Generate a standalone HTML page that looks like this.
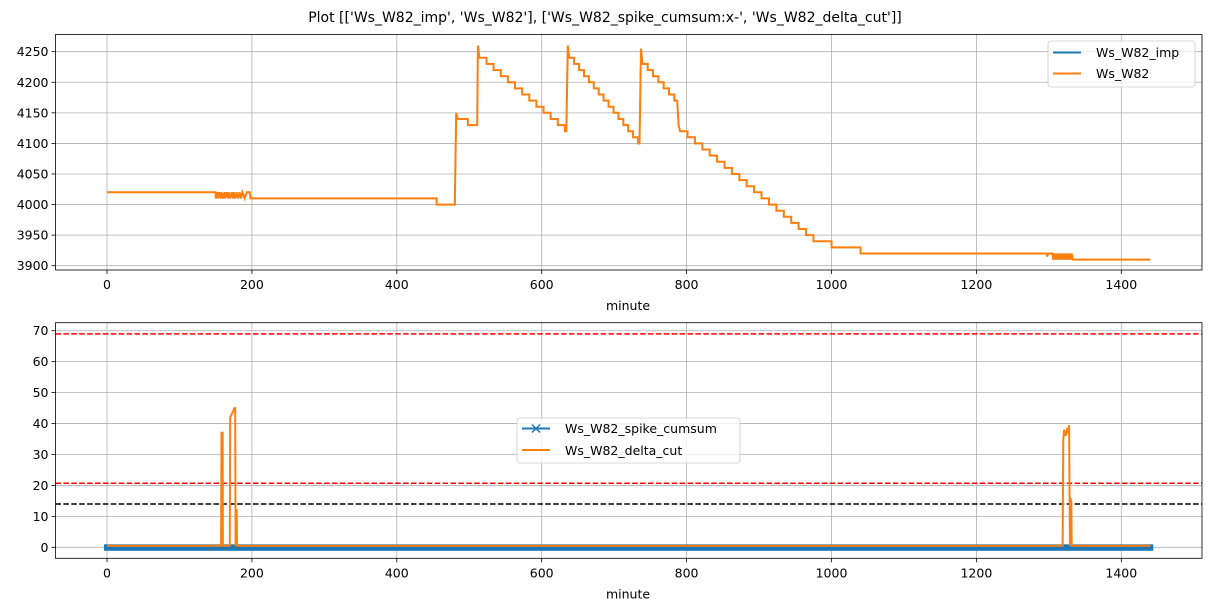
<!DOCTYPE html>
<html><head><meta charset="utf-8"><style>
body{margin:0;background:#fff;}
svg{display:block;font-family:"DejaVu Sans","Liberation Sans",sans-serif;}
</style></head><body>
<svg id="s" width="1211" height="611" xmlns="http://www.w3.org/2000/svg">
<rect width="1211" height="611" fill="#fff"/>
<text x="605" y="22" text-anchor="middle" font-size="14">Plot [['Ws_W82_imp', 'Ws_W82'], ['Ws_W82_spike_cumsum:x-', 'Ws_W82_delta_cut']]</text>
<g id="g1"></g>
<g id="g2"></g>
</svg>
<script>
var NS="http://www.w3.org/2000/svg";
function X(m){return 107+0.7245*m;}
function el(p,t,a,txt){var e=document.createElementNS(NS,t);for(var k in a)e.setAttribute(k,a[k]);if(txt!=null)e.textContent=txt;p.appendChild(e);return e;}
var g1=document.getElementById('g1'),g2=document.getElementById('g2');
function axes(g,top,bot,Y,yt){
  var L=55.5,R=1202;
  [0,200,400,600,800,1000,1200,1400].forEach(function(m){var x=X(m);
    el(g,'line',{x1:x,x2:x,y1:top,y2:bot,stroke:'#b0b0b0','stroke-width':0.8});
    el(g,'line',{x1:x,x2:x,y1:bot,y2:bot+4,stroke:'#000','stroke-width':0.8});
    el(g,'text',{x:x,y:bot+19,'text-anchor':'middle','font-size':12.5},m);});
  yt.forEach(function(v){var y=Y(v);
    el(g,'line',{x1:L,x2:R,y1:y,y2:y,stroke:'#b0b0b0','stroke-width':0.8});
    el(g,'line',{x1:L-4,x2:L,y1:y,y2:y,stroke:'#000','stroke-width':0.8});
    el(g,'text',{x:L-7,y:y+4.5,'text-anchor':'end','font-size':12.5},v);});
  el(g,'text',{x:628,y:bot+40,'text-anchor':'middle','font-size':12.5},'minute');
}
function Y1(v){return 265.7-(v-3900)*0.6114;}
axes(g1,34.5,270,Y1,[3900,3950,4000,4050,4100,4150,4200,4250]);
var pts=[[0,4020],[150,4020]];
var noise=[150,152,153,155,157,158,160,162,163,165,167,168,170,172,174,175,177,179,181,183,185];
noise.forEach(function(m,i){pts.push([m,i%2?4020:4010]);});
pts.push([187,4020],[190,4010],[193,4020],[197,4020],[198,4010],[455,4010],[455,4000],[480,4000],[482,4150],[484,4140],[498,4140],[498,4130],[511,4130],[512,4260],[514,4240]);
function stairs(t0,v0,t1,v1){var n=Math.round((v0-v1)/10);var dt=(t1-t0)/n;
  for(var i=0;i<n;i++){var t=t0+dt*(i+1);pts.push([t,v0-10*i],[t,v0-10*(i+1)]);}}
stairs(514,4240,632,4120);pts.push([634,4120],[636,4260],[638,4240]);
stairs(638,4240,733,4100);pts.push([735,4100],[737,4255],[739,4230]);
stairs(739,4230,783,4170);pts.push([787,4170],[789,4130],[791,4120]);
stairs(791,4120,975,3940);pts.push([1000,3940],[1000,3930],[1040,3930],[1040,3920],[1297,3920],[1298,3915],[1299,3920],[1305,3920]);
for(var m=1306;m<1334;m+=1.5)pts.push([m,(Math.round((m-1306)/1.5))%2?3920:3910]);
pts.push([1334,3910],[1440,3910]);
var d=pts.map(function(p,i){return (i?'L':'M')+X(p[0]).toFixed(1)+' '+Y1(p[1]).toFixed(1);}).join('');
el(g1,'path',{d:d,fill:'none',stroke:'#1f77b4','stroke-width':1.5});
el(g1,'path',{d:d,fill:'none',stroke:'#ff7f0e','stroke-width':2});
el(g1,'rect',{x:55.5,y:34.5,width:1146.5,height:235.5,fill:'none',stroke:'#000','stroke-width':0.8});
el(g1,'rect',{x:1048,y:41,width:147,height:46,rx:3,fill:'#fff','fill-opacity':0.8,stroke:'#ccc','stroke-width':0.8});
el(g1,'line',{x1:1053,x2:1081,y1:52.5,y2:52.5,stroke:'#1f77b4','stroke-width':2});
el(g1,'line',{x1:1053,x2:1081,y1:73.5,y2:73.5,stroke:'#ff7f0e','stroke-width':2});
el(g1,'text',{x:1096,y:57,'font-size':12.5},'Ws_W82_imp');
el(g1,'text',{x:1096,y:78,'font-size':12.5},'Ws_W82');
function Y2(v){return 547.3-v*3.094;}
axes(g2,322.7,558.3,Y2,[0,10,20,30,40,50,60,70]);
el(g2,'line',{x1:55.5,x2:1202,y1:Y2(69),y2:Y2(69),stroke:'#f00','stroke-width':1.5,'stroke-dasharray':'5.5,2.4'});
el(g2,'line',{x1:55.5,x2:1202,y1:Y2(20.7),y2:Y2(20.7),stroke:'#f00','stroke-width':1.5,'stroke-dasharray':'5.5,2.4'});
el(g2,'line',{x1:55.5,x2:1202,y1:Y2(14),y2:Y2(14),stroke:'#000','stroke-width':1.5,'stroke-dasharray':'5.5,2.4'});
el(g2,'rect',{x:X(0)-3,y:Y2(0)-3,width:X(1440)-X(0)+6,height:6.5,fill:'#1f77b4'});
var b=[[0,0.5],[157.5,0.5],[158,37],[159.5,37],[160,0.5],[169.5,0.5],[170,42],[172,43],[174,44],[176,45],[177,45],[177.5,0.5],[178,12],[179,12],[179.5,0.5],[1319,0.5],[1320,35],[1321,38],[1323,36],[1325,38],[1327,37],[1328,39.5],[1329,0.5],[1329.5,16],[1331,15],[1331.5,0.5],[1440,0.5]];
var d2=b.map(function(p,i){return (i?'L':'M')+X(p[0]).toFixed(1)+' '+Y2(p[1]).toFixed(1);}).join('');
el(g2,'path',{d:d2,fill:'none',stroke:'#ff7f0e','stroke-width':2});
el(g2,'rect',{x:55.5,y:322.7,width:1146.5,height:235.6,fill:'none',stroke:'#000','stroke-width':0.8});
el(g2,'rect',{x:517,y:418,width:223,height:45,rx:3,fill:'#fff','fill-opacity':0.8,stroke:'#ccc','stroke-width':0.8});
el(g2,'line',{x1:522,x2:550,y1:428.5,y2:428.5,stroke:'#1f77b4','stroke-width':2});
el(g2,'path',{d:'M532 424.5L540 432.5M532 432.5L540 424.5',stroke:'#1f77b4','stroke-width':1.5});
el(g2,'line',{x1:522,x2:550,y1:450,y2:450,stroke:'#ff7f0e','stroke-width':2});
el(g2,'text',{x:565,y:433,'font-size':12.5},'Ws_W82_spike_cumsum');
el(g2,'text',{x:565,y:455,'font-size':12.5},'Ws_W82_delta_cut');
</script>
</body></html>
